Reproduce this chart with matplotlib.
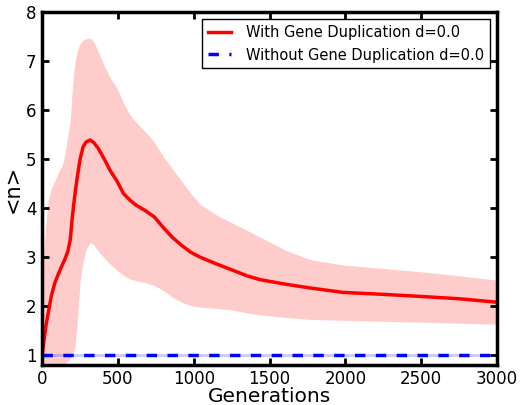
import numpy as np
import matplotlib
matplotlib.use("Agg")
import matplotlib.pyplot as plt

# values
gens = [0, 10, 25, 40, 60, 83, 110, 130, 150, 170, 185, 200, 215, 230, 250,
        270, 290, 316, 340, 370, 410, 450, 494, 536, 580, 620, 680, 740, 800,
        860, 920, 980, 1041, 1150, 1259, 1350, 1437, 1600, 1767, 1984, 2250,
        2538, 2750, 3000]
mean_dup = [1.0, 1.25, 1.6, 1.86, 2.2, 2.47, 2.68, 2.82, 2.96, 3.12, 3.35,
            3.85, 4.25, 4.6, 5.0, 5.25, 5.35, 5.39, 5.34, 5.22, 5.0, 4.76,
            4.55, 4.3, 4.16, 4.06, 3.95, 3.82, 3.6, 3.4, 3.24, 3.1, 3.0, 2.86,
            2.73, 2.62, 2.54, 2.45, 2.37, 2.28, 2.24, 2.19, 2.15, 2.08]
upper_dup = [2.7, 3.1, 3.7, 4.16, 4.4, 4.55, 4.75, 4.85, 5.1, 5.5, 5.8, 6.5,
             6.95, 7.2, 7.36, 7.43, 7.46, 7.47, 7.4, 7.2, 6.9, 6.65, 6.45,
             6.15, 5.9, 5.75, 5.56, 5.35, 5.05, 4.8, 4.55, 4.3, 4.08, 3.86,
             3.69, 3.55, 3.41, 3.15, 2.95, 2.84, 2.77, 2.69, 2.62, 2.53]
lower_dup = [0.7, 0.7, 0.7, 0.7, 0.7, 0.72, 0.76, 0.79, 0.82, 0.88, 0.93, 1.0,
             1.15, 1.6, 2.5, 2.9, 3.15, 3.3, 3.25, 3.12, 2.98, 2.85, 2.73,
             2.63, 2.55, 2.52, 2.48, 2.42, 2.32, 2.18, 2.08, 2.01, 1.98, 1.95,
             1.92, 1.86, 1.82, 1.77, 1.73, 1.71, 1.69, 1.67, 1.65, 1.63]

gens_nodup = [0, 3000]
mean_nodup = [1.0, 1.0]
upper_nodup = [1.03, 1.03]
lower_nodup = [0.97, 0.97]

fig = plt.figure(figsize=(5.27, 4.05), dpi=100)
ax = fig.add_axes([0.080, 0.099, 0.863, 0.871])

ax.fill_between(gens, lower_dup, upper_dup, color='red', alpha=0.2, lw=0)
ax.plot(gens, mean_dup, color='red', lw=2.5, label='With Gene Duplication d=0.0')
ax.fill_between(gens_nodup, lower_nodup, upper_nodup, color='blue', alpha=0.2, lw=0)
ax.plot(gens_nodup, mean_nodup, color='blue', lw=2.5, ls='--', dashes=(3, 3),
        label='Without Gene Duplication d=0.0')

ax.set_xlim(0, 3000)
ax.set_ylim(0.8, 8)
ax.set_yticks([1, 2, 3, 4, 5, 6, 7, 8])
ax.set_xlabel('Generations', fontsize=14.5, labelpad=-1)
ax.set_ylabel('<n>', fontsize=15, labelpad=2)

for s in ax.spines.values():
    s.set_linewidth(2.5)
ax.tick_params(direction='in', length=5, width=2, top=True, right=True,
               labelsize=12, pad=4)

leg = ax.legend(loc='upper right', fontsize=10.5, fancybox=False, framealpha=1,
                edgecolor='black', handlelength=1.6, handletextpad=1.0,
                borderaxespad=0.5)
leg.get_frame().set_linewidth(1)

fig.savefig('out.png', dpi=100)
